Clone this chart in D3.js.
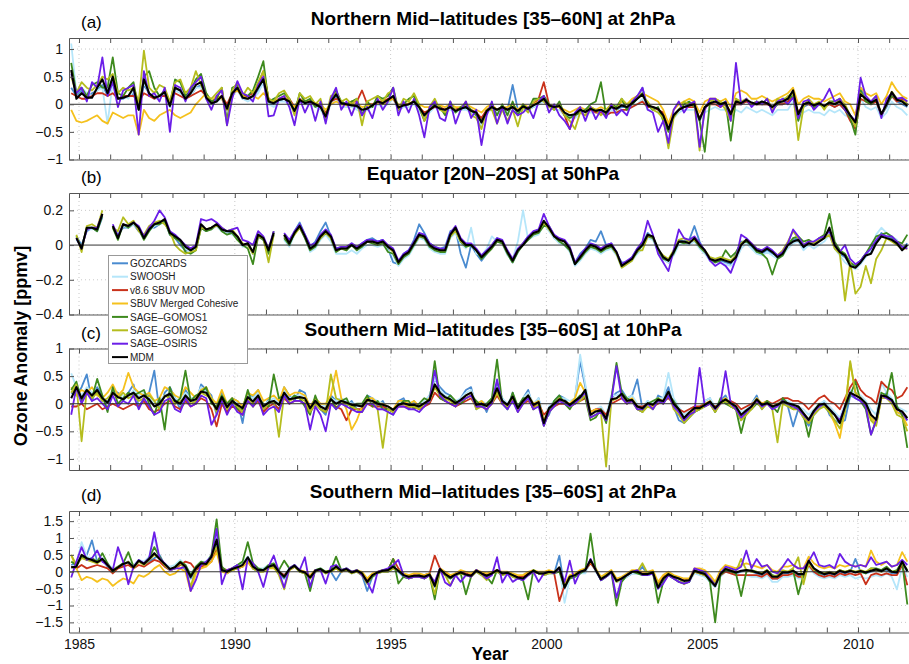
<!DOCTYPE html>
<html>
<head>
<meta charset="utf-8">
<script src="https://cdn.jsdelivr.net/npm/d3@7"></script>
<style>
  body { margin: 0; background: #fff; }
  text { font-family: "Liberation Sans", Arial, sans-serif; }
</style>
</head>
<body>
<script>
// ozone anomaly (ppmv), one value every 2 months starting Oct 1984
var T0 = 1984.75, STEP = 1 / 6;

var seriesNames = ["GOZCARDS", "SWOOSH", "v8.6 SBUV MOD", "SBUV Merged Cohesive",
  "SAGE\u2013GOMOS1", "SAGE\u2013GOMOS2", "SAGE\u2013OSIRIS", "MDM"];
var seriesColors = ["#4a8bd0", "#b5e6fa", "#c9321b", "#f5c11d", "#3e8a1e", "#b5bd1e", "#6b1ee8", "#000000"];

var titles = ["Northern Mid\u2013latitudes [35\u201360N] at 2hPa", "Equator [20N\u201320S] at 50hPa",
  "Southern Mid\u2013latitudes [35\u201360S] at 10hPa", "Southern Mid\u2013latitudes [35\u201360S] at 2hPa"];
var panelLabels = ["(a)", "(b)", "(c)", "(d)"];
var yTicksA = [-1, -0.5, 0, 0.5, 1];
var yTicksB = [-0.4, -0.2, 0, 0.2];
var yTicksC = [-1, -0.5, 0, 0.5, 1];
var yTicksD = [-1.5, -1, -0.5, 0, 0.5, 1, 1.5];
var xTickLabels = [1985, 1990, 1995, 2000, 2005, 2010];

// ---- panel (a) ----
var gozA = [.3,.15,.25,.1,.2,.25,.35,.15,.4,.1,.1,.15,
 .2,-.1,.35,.2,.1,.15,.2,-.05,.3,.25,.1,.15,
 .3,.35,.1,0,.05,.15,-.1,.15,.3,.1,.1,.15,
 .25,.4,0,0,.05,.1,.05,-.1,.05,0,.05,0,
 -.05,-.25,.05,.15,0,0,0,-.05,-.15,-.1,0,0,
 0,.05,.15,-.1,-.05,0,.05,-.1,-.25,-.1,-.05,-.1,
 -.1,-.05,-.1,-.1,-.05,-.15,-.2,-.4,-.1,-.05,-.1,-.05,
 -.1,.35,-.1,-.05,-.1,-.05,0,.15,-.05,-.05,-.05,-.2,
 -.2,-.2,-.1,-.15,-.1,-.1,-.1,-.15,-.05,-.1,-.05,-.05,
 0,.1,.3,-.05,-.05,-.1,-.2,-.45,-.2,-.1,-.05,0,
 0,-.3,-.05,0,.05,0,0,-.2,0,0,.05,0,
 0,0,0,-.05,0,0,.05,.2,-.2,-.05,0,-.05,
 0,-.05,0,-.05,0,-.1,-.2,-.35,.3,.1,0,.05,
 -.2,-.05,.15,.05,0,-.05];
var swoA = [1.1,.2,.3,.2,.15,.25,.3,-.35,.4,.1,.15,.1,
 .25,-.1,.4,.2,.1,.1,.2,-.05,.25,.2,.1,.15,
 .3,.3,.1,0,.05,.1,-.1,.15,.25,.1,.05,.1,
 .2,.4,0,-.05,.05,.05,0,-.15,.05,0,0,-.05,
 -.1,-.25,0,.1,-.05,-.05,-.05,-.1,-.15,-.1,-.05,0,
 -.05,0,.1,-.1,-.05,-.05,0,-.1,-.25,-.15,-.05,-.1,
 -.15,-.1,-.15,-.1,-.1,-.15,-.2,-.4,-.15,-.1,-.15,-.1,
 -.15,-.05,-.15,-.1,-.1,-.05,0,.05,-.05,-.1,-.1,-.2,
 -.25,-.25,-.15,-.2,-.15,-.15,-.15,-.2,-.1,-.15,-.1,-.1,
 -.05,0,.1,-.1,-.1,-.15,-.2,-.45,-.25,-.15,-.1,-.1,
 -.1,-.3,-.15,-.1,-.05,-.1,-.1,-.25,-.1,-.15,-.05,-.1,
 -.15,-.1,-.15,-.2,-.1,-.1,-.1,.05,-.3,-.15,-.1,-.15,
 -.15,-.2,-.1,-.15,-.1,-.2,-.25,-.4,.1,-.05,-.1,-.05,
 -.25,-.15,.05,-.05,-.1,-.2];
var sbmA = [.2,.15,.1,.1,.15,.2,.2,.15,.2,.1,.15,.15,
 .15,.05,.2,.15,.1,.15,.15,.05,.2,.15,.1,.15,
 .2,.25,.15,.05,.1,.15,0,.2,.25,.15,.15,.2,
 .35,.6,.1,.05,.1,.1,.1,-.05,.1,.05,.05,0,
 -.05,-.15,.05,.1,.05,0,.05,.05,.25,0,0,.05,
 .05,.1,.1,-.05,0,0,.05,-.05,-.15,-.1,-.05,-.05,
 -.1,-.05,-.1,-.05,-.05,-.1,-.15,-.25,-.1,-.05,-.1,-.05,
 -.1,-.05,-.1,-.05,-.05,0,.1,.4,0,-.05,-.05,-.2,
 -.45,-.2,-.15,-.2,-.1,-.15,-.15,-.2,-.15,-.15,-.1,-.1,
 -.05,0,.05,-.05,-.05,-.1,-.15,-.35,-.2,-.1,-.05,-.05,
 -.05,-.25,-.05,0,0,-.05,0,-.15,0,0,.05,0,
 0,0,0,-.05,0,0,.05,.15,-.15,0,0,-.05,
 0,-.05,0,-.05,0,-.1,-.3,-.45,.1,.05,0,.05,
 -.2,0,.15,.05,.1,0];
var sbcA = [-.1,-.3,-.33,-.3,-.25,-.2,-.3,-.35,-.15,-.2,-.25,-.2,
 -.2,-.55,-.1,-.25,-.3,-.2,-.15,-.1,-.2,-.25,-.2,-.15,
 0,.1,.2,.05,.15,.1,-.1,.2,.25,.15,.1,.15,
 .1,.2,.1,.05,.1,.15,.05,-.05,.1,.05,.08,.02,
 0,-.1,0,.05,0,-.02,0,0,-.05,-.03,0,.02,
 0,.05,.1,0,-.02,.02,.05,0,-.05,-.05,0,-.02,
 -.05,0,-.05,-.05,0,-.05,-.1,-.15,-.05,0,-.1,-.05,
 -.05,0,-.1,0,-.05,0,.05,.1,0,-.05,-.05,-.1,
 -.15,-.1,-.05,-.1,-.05,-.1,-.05,-.1,0,-.05,.05,0,
 .1,.15,.2,.15,.1,.05,-.1,-.35,-.1,0,.05,.1,
 .05,-.15,.05,.1,.1,.05,.1,-.05,.2,.25,.2,.1,
 .1,.15,.1,.05,.1,.15,.2,.3,0,.1,.15,.1,
 .1,.05,.1,.15,.2,.05,0,-.2,.3,.2,.15,.2,
 0,.15,.4,.25,.15,.1];
var sg1A = [.75,.2,.3,.15,.35,.4,.3,.3,.85,.2,.15,.3,
 .4,-.1,.5,.6,.3,.15,.25,0,.45,.4,.15,.25,
 .45,.55,.2,.05,.1,.3,-.3,.3,.35,.2,.15,.25,
 .5,.78,.05,.1,.15,.2,.1,-.15,.2,.05,.1,-.05,
 0,-.3,.1,.25,.05,0,.05,.1,-.2,.05,-.05,.15,
 .1,.15,.3,-.1,0,.1,.15,-.05,-.3,-.1,0,-.05,
 -.2,.05,-.15,-.05,0,-.1,-.2,-.3,-.15,0,-.2,0,
 -.2,.05,-.2,0,-.1,.1,.1,.15,0,-.1,.05,-.2,
 -.25,-.2,-.15,-.1,0,.05,.4,-.2,0,-.05,.1,-.1,
 0,.1,.2,0,-.1,-.05,-.3,-.5,-.2,-.1,0,.05,
 -.05,-.3,-.86,.05,.1,0,.05,-.66,.1,0,.1,0,
 .05,0,.1,-.1,0,.1,.1,.15,-.3,0,.05,-.05,
 0,-.05,.05,.05,.1,-.1,-.25,-.55,.25,.05,0,.1,
 -.2,0,.15,.1,.05,0];
var sg2A = [.5,.2,.4,.3,.25,.35,.5,.45,.55,.2,.3,.25,
 .3,.05,.97,.3,.2,.35,.3,.05,.4,.45,.2,.3,
 .6,.35,.15,.1,.2,.3,-.38,.25,.4,.15,.3,.2,
 .4,.6,.1,.05,.2,.25,.1,-.2,.2,.1,.15,0,
 .1,-.25,.15,.2,.05,.1,0,.1,-.38,.05,.1,.15,
 .05,.2,.25,-.1,.1,.05,.2,0,-.3,-.05,.1,-.1,
 -.15,0,-.1,-.1,.05,-.2,-.25,-.45,-.1,-.1,-.35,-.1,
 -.3,-.1,-.4,-.05,-.15,.05,.1,.05,-.05,-.1,0,-.2,
 -.3,-.45,-.15,-.2,-.05,-.1,-.2,-.1,0,-.1,.1,0,
 .05,.15,.15,.05,-.1,-.15,-.25,-.8,-.25,-.1,.05,0,
 0,-.84,-.05,.05,.1,.05,-.1,-.3,.1,.05,.1,0,
 .05,0,.1,-.1,.1,.05,.15,.2,-.65,-.05,.1,0,
 .05,-.1,.05,0,.1,0,-.2,-.4,.2,.1,.05,.15,
 -.2,0,.23,.1,.05,.05];
var osiA = [.55,.2,.3,.05,.4,.3,.85,.15,.4,-.05,.25,.3,
 .35,-.55,.6,.15,.2,.05,.3,-.5,.35,.3,.05,.3,
 .4,.5,.1,-.1,.15,.25,-.38,.1,.42,.2,.15,.05,
 .35,.5,-.22,-.2,.1,.15,-.05,-.38,.1,-.15,.05,-.3,
 .05,-.35,.1,.3,-.1,.05,-.2,.05,-.2,-.05,-.25,.1,
 -.1,.05,.3,-.2,.05,-.15,.1,-.2,-.6,-.05,.05,-.25,
 -.3,.05,-.35,-.1,.05,-.25,-.1,-.74,-.2,.05,-.35,-.05,
 -.35,-.1,-.2,-.15,-.05,-.25,.05,.15,-.15,0,-.2,-.3,
 -.45,-.15,-.05,-.3,-.05,-.27,-.1,-.25,0,-.2,-.1,-.2,
 .05,.15,.3,-.1,-.15,-.5,-.3,-.7,-.1,.05,-.15,0,
 .05,-.77,-.1,.1,.1,-.05,.05,-.3,.75,0,.1,-.05,
 .05,0,.1,-.15,.05,.1,0,.12,-.25,.05,.08,-.1,
 0,.1,.28,.05,.1,-.1,-.2,-.3,.48,.15,.05,.15,
 -.25,.1,.2,.1,.12,.05];
var mdmA = [.62,.1,.2,.12,.12,.3,.45,.2,.5,.1,.12,.15,
 .3,-.1,.45,.2,.12,.15,.22,-.03,.3,.25,.1,.2,
 .35,.4,.12,.02,.05,.15,-.08,.2,.3,.12,.1,.15,
 .3,.45,.05,.02,.08,.1,.05,-.12,.08,.02,.05,0,
 -.05,-.22,.05,.18,.02,0,-.02,-.03,-.1,-.08,-.02,.05,
 .02,.08,.15,-.06,-.02,0,.05,-.05,-.2,-.1,-.03,-.08,
 -.1,-.05,-.12,-.08,-.05,-.12,-.15,-.33,-.12,-.05,-.1,-.05,
 -.1,-.05,-.12,-.04,-.08,-.02,.03,.1,-.02,-.05,-.03,-.15,
 -.2,-.18,-.1,-.14,-.08,-.12,-.1,-.15,-.05,-.08,-.02,-.05,
 .02,.1,.18,-.02,-.05,-.08,-.2,-.45,-.2,-.1,-.05,-.02,
 0,-.28,-.05,.02,.05,0,.03,-.18,.05,.02,.08,.03,
 0,.05,.02,-.05,.03,.05,.1,.25,-.18,0,.03,-.02,
 .02,-.03,.03,0,.05,-.05,-.2,-.33,.18,.1,.03,.08,
 -.18,0,.22,.08,.05,-.03];

// ---- panel (b) ----  (no SBUV records at 50 hPa)
var gozB = [null,.05,0,.08,.1,.08,.16,null,.1,.06,.1,.1,
 .12,.08,.05,.1,.1,.12,.14,.06,.04,0,-.03,-.03,
 -.02,.1,.08,.1,.11,.08,.07,.07,.04,0,.01,-.05,
 .06,.03,-.04,.06,null,.05,0,.08,.13,.06,-.01,.02,
 .08,.13,.05,-.02,-.01,-.03,.01,-.03,.01,.03,.04,.02,
 .03,-.02,-.1,-.11,-.05,-.03,.03,.12,.07,.01,-.01,-.02,
 -.01,.08,.09,-.05,-.13,0,-.05,-.09,-.05,0,.04,.02,
 -.05,-.1,-.04,.01,.05,.07,.09,.13,.1,.04,.02,0,
 -.03,-.1,-.05,-.02,.03,.02,.08,0,.01,-.05,-.1,-.1,
 -.07,-.02,.01,.07,.04,-.03,-.08,-.1,-.05,.03,.02,.03,
 .11,.02,-.04,-.09,-.1,-.09,-.1,-.11,-.05,.02,.02,-.01,
 -.04,-.05,-.03,-.05,-.06,-.04,.01,.03,.04,-.02,.02,0,
 .03,.05,.08,-.01,-.05,-.07,-.11,-.12,-.09,-.05,-.04,.02,
 .07,.05,.04,.02,-.02,.01];
var swoB = [null,.03,-.01,.09,.09,.1,.17,null,.1,.05,.11,.1,
 .12,.09,.05,.08,.11,.12,.13,.07,.05,.02,-.02,-.04,
 -.02,.11,.09,.09,.11,.08,.07,.06,.04,-.01,0,-.04,
 .05,.03,-.04,.06,null,.03,-.01,.06,.11,.04,-.04,-.02,
 .03,.06,.02,-.05,-.05,-.05,-.03,-.05,-.02,0,0,-.01,
 0,-.03,-.06,-.12,-.08,-.06,-.01,.04,.03,-.02,-.04,-.05,
 -.05,.04,.07,.01,-.02,.1,-.05,-.06,-.02,.05,.02,.01,
 -.06,-.08,.02,.2,.03,.05,.06,.12,.08,.04,.01,0,
 -.04,-.12,-.09,-.05,-.02,-.03,-.05,-.03,-.02,-.06,-.13,-.11,
 -.09,-.05,-.02,.04,.03,-.04,-.08,-.1,-.06,0,.01,0,
 .02,-.02,-.05,-.09,-.1,-.1,-.11,-.12,-.09,-.02,.01,-.02,
 -.05,-.06,-.04,-.06,-.08,-.06,-.02,.01,.02,-.03,0,-.02,
 0,.02,.06,-.02,-.06,-.1,-.12,-.14,-.11,-.07,-.03,.06,
 .1,.07,.05,.03,-.02,-.01];
var sbmB = [];
var sbcB = [];
var sg1B = [null,.05,-.02,.1,.1,.08,.17,null,.1,.03,.12,.1,
 .13,.09,.03,.08,.12,.12,.14,.06,.04,.02,-.04,-.05,
 -.03,.1,.08,.09,.12,.08,.06,.07,.03,0,-.02,-.11,
 .05,.03,-.05,.08,null,.04,0,.07,.1,.04,-.03,-.01,
 .04,.07,.04,-.04,-.02,-.03,0,-.03,-.01,.02,.01,0,
 .01,-.04,-.05,-.11,-.07,-.05,0,.05,.04,-.01,-.03,-.04,
 -.04,.05,.09,.02,-.01,0,-.03,-.08,-.05,-.02,.02,.01,
 -.05,-.1,-.04,0,.03,.06,.07,.11,.11,.05,.02,0,
 -.03,-.11,-.08,-.04,-.01,-.02,-.04,-.02,-.01,-.05,-.11,-.1,
 -.08,-.04,0,.05,.04,-.03,-.08,-.09,-.05,.02,.01,.02,
 .03,-.01,-.04,-.08,-.1,-.09,-.03,-.07,-.04,.01,.02,0,
 -.04,-.05,-.08,-.17,-.08,-.06,0,.04,.05,.02,.03,.01,
 .04,.06,.18,.02,-.03,-.05,-.1,-.12,-.09,-.05,0,.05,
 .06,.07,.05,.02,.01,.06];
var sg2B = [null,.06,-.04,.11,.12,.1,.2,null,.1,.08,.16,.12,
 .14,.08,.06,.11,.13,.14,.12,.08,0,-.03,-.05,-.04,
 -.03,.1,.09,.1,.11,.1,.08,.09,.05,.01,0,-.05,
 .05,.04,-.1,.06,null,.05,.02,.06,.1,.05,-.02,0,
 .04,.07,.04,-.03,-.02,-.02,0,-.02,0,.02,.02,.01,
 .02,-.01,-.04,-.1,-.06,-.04,.01,.05,.05,0,-.02,-.03,
 -.03,.05,.08,.02,0,0,-.03,-.06,-.04,-.01,.03,.02,
 -.04,-.08,-.03,.01,.04,.07,.08,.13,.09,.05,.03,.02,
 -.02,-.1,-.07,-.03,0,-.01,-.03,-.01,0,-.05,-.13,-.11,
 -.09,-.03,-.03,.05,.05,-.03,-.06,-.08,-.03,.03,.04,.02,
 .03,0,-.03,-.07,-.08,-.07,-.08,-.09,-.06,.01,.03,.01,
 -.02,-.03,-.02,-.04,-.06,-.03,.02,.08,.04,0,.02,.01,
 .03,.04,.06,-.02,-.05,-.32,-.1,-.28,-.24,-.12,-.22,-.08,
 -.03,.04,.02,0,-.02,-.02];
var osiB = [null,.04,-.02,.09,.1,.1,.18,null,.12,.05,.12,.11,
 .13,.11,.05,.1,.14,.2,.16,.08,.06,.03,0,-.02,
 0,.15,.14,.15,.13,.1,.08,.09,.1,.03,.02,0,
 .08,.05,-.02,.08,null,.07,.03,.08,.12,.06,0,.01,
 .06,.09,.06,-.02,-.01,-.01,.01,-.01,.01,.03,.03,.02,
 .03,0,-.02,-.09,-.05,-.03,.02,.07,.06,.01,-.01,-.02,
 -.02,.07,.11,.04,.01,.01,-.02,-.06,-.03,0,.04,.03,
 -.03,-.08,-.02,.01,.05,.08,.09,.18,.11,.06,.04,.03,
 -.01,-.1,-.06,-.02,.01,0,-.02,0,.01,-.04,-.11,-.09,
 -.07,-.02,.02,.14,.06,-.05,-.1,-.15,-.03,.09,.04,.03,
 .05,.01,-.03,-.09,-.12,-.1,-.12,-.16,-.08,.06,.04,.01,
 -.02,-.03,-.01,-.03,-.06,-.04,.01,.09,.05,0,.02,.02,
 .04,.05,.08,0,-.04,0,-.08,-.11,-.09,-.05,-.02,.03,
 .06,.05,.05,.02,-.01,-.02];
var mdmB = [null,.04,-.02,.1,.1,.09,.18,null,.11,.04,.12,.11,
 .13,.1,.04,.09,.12,.13,.15,.07,.05,.03,-.01,-.03,
 -.01,.12,.09,.1,.12,.09,.08,.08,.05,0,.01,-.04,
 .06,.04,-.03,.07,null,.06,.01,.07,.11,.05,-.02,0,
 .05,.08,.05,-.03,-.02,-.02,0,-.02,0,.02,.02,.01,
 .02,-.01,-.03,-.1,-.06,-.04,.01,.06,.05,0,-.02,-.03,
 -.03,.06,.1,.03,0,0,-.03,-.07,-.04,-.01,.03,.02,
 -.04,-.09,-.03,0,.04,.07,.08,.14,.1,.05,.03,.02,
 -.02,-.11,-.07,-.03,0,-.01,-.03,-.01,0,-.04,-.12,-.1,
 -.08,-.03,0,.06,.05,-.02,-.07,-.09,-.04,.02,.02,.01,
 .04,0,-.03,-.08,-.09,-.08,-.09,-.1,-.07,0,.03,0,
 -.03,-.04,-.02,-.04,-.07,-.05,0,.02,.03,-.01,.01,0,
 .02,.04,.1,0,-.04,-.06,-.12,-.13,-.1,-.06,-.05,.01,
 .05,.04,.03,.01,-.03,0];

// ---- panel (c) ----
var gozC = [.2,.15,.3,.53,.05,.3,.15,-.1,.25,.2,.05,.2,
 .35,-.05,.1,.2,.6,-.15,.2,.3,.1,-.1,.25,.1,
 0,.35,.25,.15,-.2,.2,-.15,.1,.05,-.35,.2,.1,
 .25,-.15,.1,0,-.1,.3,.15,.05,.25,.2,-.15,0,
 -.1,-.2,.15,.05,.1,-.05,.05,-.1,-.15,.15,.1,-.05,
 .05,-.15,-.2,.05,.1,-.1,.05,-.1,-.05,.15,.45,.3,
 .2,.15,-.05,.1,.25,.3,-.1,.05,-.15,.1,.35,.1,
 -.1,.2,-.15,.1,.25,-.1,.1,-.3,-.2,.05,.15,.1,
 -.05,.1,.77,.3,-.25,-.2,-.1,-.3,.1,.2,.25,.1,
 .15,.44,-.1,.05,-.1,.15,.1,.3,-.05,-.3,-.35,-.25,
 -.15,-.1,.05,.1,-.15,.05,.15,-.05,-.1,-.3,-.15,0,
 .15,-.1,.05,-.1,0,.1,-.05,-.41,-.1,-.25,-.4,-.2,
 -.1,.05,-.2,-.3,-.35,-.3,.15,.1,.05,-.05,-.25,-.35,
 .1,.2,.05,-.15,-.2,-.3];
var swoC = [.55,.3,.15,.3,.2,.2,.05,.05,.25,.15,.15,.1,
 .25,.15,.2,.1,0,.05,.15,.2,.1,.05,.2,.1,
 .1,.3,.2,.1,-.05,.15,-.1,.1,0,-.15,.15,.1,
 .2,-.05,.05,.1,0,.25,.1,.15,.15,.15,-.05,.1,
 0,-.05,.1,.05,.1,.05,0,0,-.05,.1,.1,.05,
 0,-.05,-.1,0,.05,0,0,-.05,.05,.15,.47,.25,
 .15,.1,.05,.1,.2,.25,0,.05,0,.1,.3,.1,
 0,.15,-.05,.1,.2,0,.1,-.3,-.05,.05,.1,.1,
 .05,.1,.89,.35,-.15,-.1,-.05,-.2,.15,.15,.2,.1,
 .15,0,-.05,.05,0,.1,.1,.56,.1,-.05,-.2,-.1,
 -.05,-.05,.05,.1,-.05,.05,.1,.05,0,-.15,-.1,0,
 .1,0,.05,-.05,0,.1,.05,0,-.05,-.1,-.2,-.1,
 0,.05,-.05,-.15,-.25,0,.25,.2,.15,.05,-.1,-.2,
 .38,.2,.1,-.05,-.1,-.15];
var sbmC = [-.05,-.05,0,-.1,-.05,0,-.1,-.05,0,-.05,-.1,-.05,
 0,-.05,.05,-.1,-.15,-.1,0,.05,-.05,-.1,.05,-.05,
 0,.1,.05,-.1,-.41,0,-.15,-.05,-.1,-.2,.05,-.05,
 .05,-.15,-.05,0,-.1,.1,0,.05,.05,0,-.15,0,
 -.1,-.15,0,-.05,-.1,-.3,-.1,-.1,-.1,0,-.05,-.05,
 -.05,-.1,-.15,-.05,-.05,-.05,-.05,-.1,-.05,0,.2,.1,
 .05,0,-.05,0,.05,.1,-.05,-.05,-.1,0,.15,0,
 -.05,.05,-.1,0,.05,-.05,0,-.2,-.1,-.05,0,0,
 -.05,0,.05,.1,-.15,-.1,-.1,-.2,0,.05,.1,0,
 .05,-.05,-.05,0,-.05,0,.05,.1,0,-.1,-.15,-.1,
 -.05,-.05,0,0,-.05,0,.05,.05,0,-.1,-.05,0,
 .05,0,.05,0,.05,.1,.1,.05,.05,0,-.1,0,
 .1,.15,.05,0,-.1,.1,.3,.44,.25,.15,.1,0,
 .4,.3,.25,.1,.15,.3];
var sbcC = [.3,.15,.25,.2,.3,.15,.1,.2,.35,.15,.25,.56,
 .3,.2,.15,.2,.05,.1,.3,.25,.15,.1,.3,.2,
 .1,.25,.3,.1,0,.25,0,.1,.05,-.05,.2,.15,
 .25,.05,.1,.15,.05,.3,.15,.2,.2,.15,-.05,.1,
 0,0,.15,.6,.1,-.1,-.47,-.3,-.05,.1,.1,0,
 0,-.05,-.1,.05,.05,0,.05,-.05,0,.1,.3,.2,
 .1,.05,0,.05,.15,.2,0,.05,-.05,.05,.2,.05,
 -.05,.1,-.1,.05,.15,0,.05,-.3,-.1,0,.1,.05,
 0,.1,.38,.2,-.15,-.1,-.15,-.3,.05,.1,.15,.05,
 .1,-.05,-.1,0,-.05,.1,.05,.2,0,-.15,-.3,-.2,
 -.1,-.1,0,.05,-.1,.05,.1,0,-.05,-.25,-.15,-.05,
 .1,0,.05,-.05,0,.05,0,-.05,-.1,-.2,-.35,-.15,
 -.05,0,-.15,-.35,-.62,-.1,.74,.2,.1,0,-.25,-.35,
 .1,.1,.05,-.15,-.2,-.4];
var sg1C = [.25,.4,.05,.2,.1,.45,.15,-.15,.3,0,.1,.2,
 .15,.2,.25,0,-.2,.1,-.47,.3,0,.1,.6,.05,
 .15,.2,.3,0,-.05,.15,0,.1,-.1,-.1,.25,-.05,
 .1,0,-.05,.53,.1,.15,.05,.15,.1,-.05,-.2,.15,
 -.1,-.15,.1,-.1,.05,.1,-.1,0,0,.15,-.05,.05,
 -.1,-.1,-.15,-.05,.05,.05,-.1,0,.1,.05,.77,.1,
 .05,.15,.05,0,.1,.15,.05,-.05,0,.1,.8,0,
 -.1,.2,-.05,.1,.1,-.1,0,-.4,-.15,.05,.15,0,
 -.1,.05,.15,.1,-.3,-.25,-.1,-.35,.1,.74,.2,.1,
 .05,-.1,-.15,0,.05,.1,0,.15,.05,-.1,-.3,-.2,
 -.15,-.1,-.05,0,-.15,.1,0,-.05,-.1,-.53,-.15,-.1,
 0,-.05,.05,-.05,-.15,.1,0,-.1,-.05,-.2,-.6,-.15,
 0,-.05,-.15,-.2,-.3,-.1,.15,.4,.05,-.1,-.56,-.3,
 .2,.15,.56,-.05,-.2,-.8];
var sg2C = [.2,.35,-.68,.25,.1,.2,.05,.1,.2,.1,.2,.1,
 .15,.05,.1,.15,.05,-.1,.15,.1,0,.05,.1,0,
 .05,.2,.15,.1,-.15,.1,-.1,.05,-.05,-.15,.1,0,
 .1,-.1,0,.05,-.6,.15,.05,.1,.1,.05,-.15,0,
 -.1,-.15,.53,.1,.05,0,-.05,-.1,-.15,.05,.05,-.1,
 -.8,-.1,-.15,-.05,0,-.05,-.05,-.1,0,.05,.3,.15,
 .1,.05,-.05,.05,.1,.15,-.1,-.05,-.1,0,.2,0,
 -.05,.1,-.15,0,.1,-.1,0,-.35,-.15,-.05,.05,.05,
 -.05,0,.05,.15,-.25,-.2,-.15,-1.14,.05,.1,.15,0,
 .05,-.1,-.15,-.05,-.1,.05,0,.2,-.1,-.2,-.35,-.25,
 -.15,-.1,-.05,0,-.15,0,.05,-.05,-.1,-.3,-.2,-.1,
 .05,-.1,0,-.1,-.7,0,-.05,-.1,-.1,-.25,-.35,-.2,
 -.1,-.05,-.15,-.3,-.45,-.15,.77,.2,.1,-.05,-.3,-.4,
 .1,.1,0,-.2,-.25,-.5];
var osiC = [-.2,.3,0,.2,.05,.1,0,-.1,.15,-.05,.05,0,
 .15,-.1,.1,-.05,-.2,-.15,.05,.1,-.1,-.15,.1,-.05,
 0,.15,.1,-.38,-.2,.05,-.2,0,-.15,-.2,.05,-.05,
 .1,-.2,-.1,-.05,-.15,.15,0,.05,.05,0,-.47,-.05,
 -.2,-.5,0,-.1,0,-.05,-.1,-.15,-.15,0,0,-.1,
 -.1,-.15,-.2,-.05,-.05,-.1,-.1,-.15,-.05,.05,.6,.15,
 .05,0,-.05,.05,.1,.15,-.05,-.05,-.1,0,.44,0,
 -.1,.05,-.15,0,.1,-.1,-.05,-.4,-.15,-.05,.05,0,
 -.05,0,.1,.2,-.25,-.2,-.15,-.3,.05,.68,.1,0,
 .05,-.1,-.1,0,-.1,.05,0,.15,-.05,-.15,-.3,-.2,
 -.15,.65,-.05,0,-.1,0,.59,0,-.1,-.25,-.15,-.05,
 .05,-.05,0,-.1,-.05,.05,0,-.05,-.1,-.2,-.3,-.15,
 -.05,0,-.1,-.2,-.3,-.05,.2,.1,.05,-.05,-.56,-.3,
 .15,.1,.05,-.1,-.15,-.3];
var mdmC = [.1,.3,.1,.25,.15,.25,.1,.02,.2,.12,.08,.15,
 .2,.1,.15,.08,-.05,0,.13,.18,.05,0,.15,.05,
 .08,.22,.2,.05,-.1,.12,-.06,.05,-.02,-.08,.12,.04,
 .15,-.05,.02,.05,-.02,.2,.08,.1,.12,.1,-.08,.05,
 -.05,-.1,.08,0,.05,.02,-.02,-.03,-.05,.07,.05,0,
 -.02,-.05,-.11,-.02,.01,-.02,-.02,-.05,.01,.07,.35,.2,
 .12,.08,.01,.07,.15,.2,-.02,0,-.04,.05,.28,.05,
 -.02,.13,-.08,.05,.15,-.02,.03,-.35,-.08,0,.08,.05,
 -.02,.05,.12,.25,-.2,-.14,-.12,-.27,.08,.1,.18,.05,
 .07,-.05,-.08,.01,-.02,.07,.05,.22,0,-.1,-.26,-.16,
 -.08,-.08,-.02,.04,-.08,.02,.08,.01,-.05,-.2,-.12,-.05,
 .08,-.02,.01,-.05,-.02,.04,.01,-.02,-.05,-.17,-.29,-.13,
 -.02,0,-.1,-.2,-.35,-.05,.2,.15,.1,.01,-.2,-.29,
 .15,.13,.07,-.1,-.14,-.26];

// ---- panel (d) ----
var gozD = [.2,.25,.45,.5,.93,.3,.35,.15,.05,.1,.2,.3,
 .1,.35,.2,.3,.4,.5,.2,.05,.1,.25,.05,-.2,
 .05,.2,.25,.4,.85,.05,-.05,.05,.1,.15,.35,.1,
 0,.05,.1,.15,-.05,-.2,.05,.15,0,-.05,-.2,0,
 .05,-.05,0,-.25,0,.05,-.05,0,-.1,-.57,-.15,-.05,
 0,0,.1,0,-.15,-.2,-.15,-.15,-.2,-.1,-.45,.05,
 -.1,-.2,-.1,-.05,-.1,-.15,0,-.1,-.15,-.05,0,-.1,
 -.05,-.15,-.2,-.25,-.1,0,-.05,-.1,-.05,-.05,.48,-.5,
 -.2,-.15,-.05,0,.3,.05,-.25,-.15,-.05,-.3,-.25,-.15,
 -.05,-.05,.15,-.1,-.05,-.5,-.2,-.1,-.2,-.25,-.3,-.3,
 0,-.05,-.1,-.3,-.45,-.1,.05,0,-.05,0,.05,0,
 -.05,-.1,0,-.2,-.2,-.05,-.05,0,-.1,-.1,.3,.05,
 -.05,-.1,-.05,-.1,0,-.05,0,.38,0,-.05,0,.05,
 0,.05,-.05,-.05,.25,0];
var swoD = [.15,.2,.88,.45,.4,.3,.4,.25,.1,.15,.25,.3,
 .2,.35,.3,.45,1.02,.4,.25,.15,.2,.35,.2,-.05,
 .15,.3,.3,.5,1.13,.1,.05,.1,.2,.25,.45,.2,
 .1,.1,.2,.25,.05,-.1,.1,.2,.05,0,-.15,.05,
 .1,0,.05,.15,.05,.1,0,.05,-.05,-.25,-.1,0,
 .05,.05,.1,.05,-.05,-.1,-.1,-.1,-.1,-.05,-.35,.1,
 -.05,-.15,-.05,0,-.05,-.1,.05,-.05,-.1,-.05,.05,-.05,
 -.05,-.1,-.15,-.2,-.1,0,-.05,-.05,-.05,-.05,.1,-.92,
 -.2,-.15,-.05,-.05,.3,0,-.25,-.15,-.05,-.3,-.25,-.15,
 -.05,-.05,-.1,-.1,-.05,-.45,-.25,-.1,-.2,-.25,-.3,-.3,
 -.05,-.1,-.15,-.3,-.45,-.15,0,-.05,-.1,-.1,-.1,-.15,
 -.15,-.2,-.1,-.3,-.3,-.15,-.15,-.1,-.2,-.2,.15,-.05,
 -.15,-.2,-.15,-.2,-.1,-.15,-.1,-.2,-.15,-.2,-.15,-.1,
 -.15,-.05,-.15,-.52,.15,-.15];
var sbmD = [.15,.1,.2,.1,.15,.2,.15,.1,-.05,.1,.15,.2,
 .1,.2,.15,.25,.35,.3,.15,.05,.1,.2,.3,.25,
 .05,.15,.2,.3,.7,.1,.05,.1,.1,.15,.3,.1,
 .05,.05,.1,.15,0,-.1,.05,.15,.05,0,-.15,.05,
 .05,0,.05,.1,0,.05,0,0,-.05,-.25,-.1,0,
 .05,.05,.38,.1,-.1,-.15,-.1,-.1,-.1,-.05,.48,.1,
 -.05,-.15,-.05,0,-.05,-.1,.05,-.05,-.1,-.05,.05,-.05,
 -.05,-.1,-.15,-.15,-.05,0,-.05,-.05,0,-.05,-.87,-.4,
 -.15,-.1,0,.05,.25,.05,-.2,-.1,0,-.25,-.2,-.1,
 0,0,-.05,-.05,0,-.35,-.15,-.05,-.15,-.2,-.25,-.25,
 0,-.05,-.1,-.2,-.35,-.1,0,-.05,-.1,-.1,-.1,-.1,
 -.1,-.15,-.05,-.2,-.2,-.1,-.1,-.05,-.15,-.15,.2,0,
 -.1,-.15,-.1,-.15,-.05,-.1,-.05,-.1,-.05,-.37,-.1,-.05,
 -.1,-.05,-.1,-.1,.2,-.4];
var sbcD = [.5,.1,-.25,-.15,-.2,-.3,-.2,-.25,-.42,-.3,-.2,-.25,
 -.35,-.1,-.15,-.05,.1,.2,0,-.1,-.05,.1,0,-.57,
 -.05,.1,.15,.3,.58,0,-.05,.05,.1,.15,.3,.1,
 .05,.05,.1,.1,0,-.15,.05,.15,.05,0,-.1,.05,
 .05,0,.05,.1,.05,.05,0,.05,0,-.2,-.05,0,
 .05,.05,.1,.05,-.05,-.1,-.05,-.05,-.1,-.05,-.35,.1,
 0,-.1,-.05,.05,0,-.05,.05,0,-.05,0,.05,0,
 0,-.05,-.1,-.1,0,.05,0,0,.05,0,.1,-.35,
 -.1,-.05,.05,.1,.3,.1,-.15,-.05,.05,-.2,-.15,-.05,
 .05,.05,0,0,.05,-.3,-.1,0,-.1,-.15,-.2,-.2,
 .1,.1,.05,-.1,-.3,.05,.2,.15,.1,.2,.25,.2,
 .15,.1,.2,.05,0,.15,.15,.2,.1,.1,.45,.25,
 .15,.1,.15,.1,.2,.15,.2,.15,.2,.15,.63,.3,
 .2,.3,.15,.2,.58,.3];
var sg1D = [.3,.2,.45,.35,.4,.3,.55,.25,0,.15,.25,.58,
 .15,.3,.25,.4,.73,.45,.2,.05,.15,.3,.2,-.1,
 .15,.3,.25,.5,1.55,.15,0,.1,.2,.3,.88,.25,
 .1,.05,.2,.25,.05,.33,.1,.2,0,-.05,-.57,.05,
 .1,0,.05,.45,.05,.1,0,.05,-.05,-.35,-.15,0,
 .05,.05,.38,-.35,-.15,-.2,-.15,-.1,-.2,-.1,-.82,.05,
 -.1,-.2,-.1,-.05,-.67,-.15,.05,-.05,-.15,-.35,.05,-.05,
 -.05,-.1,-.2,-.25,-.82,.05,-.05,-.05,0,-.05,0,-.45,
 -.2,-.15,-.05,.05,1.13,.05,-.25,-.15,0,-1,-.3,-.1,
 0,-.05,-.1,-.05,0,-.92,-.3,-.1,-.2,-.3,-.35,-.3,
 .05,0,-.05,-.3,-1.5,-.1,.05,0,-.05,-.72,0,.05,
 0,-.05,.05,-.1,-.15,0,0,.05,-.67,-.1,.3,.1,
 -.05,-.05,0,-.05,.05,0,.05,0,0,-.05,.1,.1,
 .05,.15,0,.05,.3,-.97];
var sg2D = [.5,.2,.4,.35,.3,.25,.35,.2,.05,.15,.2,.3,
 .1,.3,.2,.35,.5,.4,.2,.05,.1,.25,.1,-.45,
 .1,.25,.2,.45,.73,.05,0,.05,.1,.2,.4,.1,
 0,0,.1,.15,-.1,-.52,.05,.15,0,-.05,-.2,0,
 .05,-.05,0,.1,0,.05,-.05,0,-.1,-.35,-.1,-.05,
 0,0,.1,.05,-.1,-.2,-.15,-.15,-.2,-.1,-.67,.05,
 -.1,-.4,-.1,-.05,-.1,-.15,0,-.1,-.25,-.05,0,-.1,
 -.05,-.15,-.2,-.2,-.1,0,-.05,-.1,-.05,-.05,.1,-.45,
 -.15,-.1,0,.05,.35,.05,-.2,-.1,0,-.3,-.2,-.1,
 0,0,.25,-.05,0,-.4,-.2,-.05,-.15,-.2,-.37,-.25,
 0,-.05,-.1,-.2,-.35,-.05,.1,.05,0,.38,.05,0,
 0,-.05,.05,-.15,-.1,.05,0,.1,.43,-.37,.25,.05,
 0,-.05,0,-.05,.05,0,.05,0,.05,0,.1,.05,
 0,.1,0,0,.25,.05];
var osiD = [-.17,.3,.73,.35,.4,.63,.3,.2,.05,.73,.3,-.37,
 .15,.35,.25,.4,1.17,.4,.25,.05,.1,.1,.15,-.57,
 -.25,.2,.3,.45,1.27,-.37,.05,.1,.2,-.52,.4,.25,
 0,-.45,.15,.48,0,-.47,.1,.2,.05,.43,-.45,.05,
 .05,-.35,.15,.2,.05,.1,0,.05,-.1,-.3,-.62,0,
 .05,.1,.2,.35,-.1,-.2,-.15,-.15,-.2,-.1,-.3,.1,
 -.32,-.42,-.1,-.3,-.1,-.15,.05,-.05,-.2,-.1,.43,-.32,
 -.05,-.3,-.2,-.25,-.1,0,-.3,-.05,0,-.05,.1,-.3,
 .33,-.35,0,.05,.38,.05,-.25,-.15,0,-.77,-.2,-.1,
 0,.05,-.1,-.1,-.05,-.5,-.35,-.1,-.2,-.3,-.35,-.3,
 .1,.05,0,-.2,-.4,-.05,.15,.1,.05,.15,.63,.1,
 .38,.15,.2,0,-.05,.15,.38,.2,.1,.1,.3,.58,
 .2,.15,.2,.1,.53,.3,.2,.15,.2,.15,.43,.2,
 .25,.3,.15,.2,.35,.2];
var mdmD = [.13,.15,.5,.4,.35,.28,.38,.2,.03,.13,.23,.28,
 .13,.33,.23,.38,.55,.38,.23,.08,.13,.28,.15,-.15,
 .1,.25,.23,.45,.95,.05,0,.08,.13,.2,.43,.15,
 .05,.05,.15,.2,0,-.15,.08,.18,.03,-.02,-.17,.03,
 .08,-.02,.03,.15,.03,.08,-.02,.03,-.05,-.3,-.1,-.02,
 .03,.05,.15,.03,-.1,-.15,-.12,-.12,-.15,-.08,-.42,.08,
 -.07,-.17,-.08,-.02,-.08,-.12,.03,-.05,-.12,-.05,.05,-.05,
 -.03,-.1,-.17,-.2,-.07,.03,-.05,-.05,0,-.02,.13,-.47,
 -.15,-.1,0,.05,.35,.05,-.22,-.12,0,-.27,-.2,-.1,
 0,0,-.07,-.07,-.02,-.47,-.2,-.07,-.15,-.2,-.27,-.25,
 .03,-.02,-.07,-.25,-.42,-.07,.08,.03,-.02,.03,.05,.03,
 -.02,-.07,.03,-.15,-.15,-.02,-.02,.03,-.07,-.07,.33,.1,
 0,-.07,-.03,-.07,.03,-.02,.03,-.02,.02,-.02,.03,.07,
 .02,.1,0,-.02,.3,.02];

var panels = [
  { title: titles[0], label: panelLabels[0], dom: [-1, 1.2], top: 38, bottom: 159.5, ticks: yTicksA,
    data: [gozA, swoA, sbmA, sbcA, sg1A, sg2A, osiA, mdmA] },
  { title: titles[1], label: panelLabels[1], dom: [-0.4, 0.3], top: 193, bottom: 314.5, ticks: yTicksB,
    data: [gozB, swoB, sbmB, sbcB, sg1B, sg2B, osiB, mdmB] },
  { title: titles[2], label: panelLabels[2], dom: [-1.2, 1.0], top: 348.5, bottom: 470, ticks: yTicksC,
    data: [gozC, swoC, sbmC, sbcC, sg1C, sg2C, osiC, mdmC] },
  { title: titles[3], label: panelLabels[3], dom: [-1.8, 1.8], top: 511, bottom: 632.5, ticks: yTicksD,
    data: [gozD, swoD, sbmD, sbcD, sg1D, sg2D, osiD, mdmD] }
];

var W = 909, H = 664;
var L = 69, R = 912;
var svg = d3.select("body").append("svg").attr("width", W).attr("height", H);

// 1985 sits at x=79, 31.16 px per year
var x = d3.scaleLinear().domain([1985 - 10 / 31.16, 1985 + (R - 79) / 31.16]).range([L, R]);
var yearTicks = d3.range(1985, 2012);
var fmt = function(d) { return (d < 0 ? "\u2212" : "") + Math.abs(d); };

panels.forEach(function(p, pi) {
  var y = d3.scaleLinear().domain(p.dom).range([p.bottom, p.top]);
  var g = svg.append("g");

  g.append("clipPath").attr("id", "clip" + pi)
    .append("rect").attr("x", L).attr("y", p.top).attr("width", R - L).attr("height", p.bottom - p.top);

  // dotted grid
  g.selectAll(".vg").data(xTickLabels).enter().append("line")
    .attr("x1", function(d) { return x(d); }).attr("x2", function(d) { return x(d); })
    .attr("y1", p.top).attr("y2", p.bottom)
    .attr("stroke", "#bbb").attr("stroke-width", 0.8).attr("stroke-dasharray", "1,3");
  g.selectAll(".hg").data(p.ticks.filter(function(d) { return d !== 0; })).enter().append("line")
    .attr("x1", L).attr("x2", R)
    .attr("y1", function(d) { return y(d); }).attr("y2", function(d) { return y(d); })
    .attr("stroke", "#bbb").attr("stroke-width", 0.8).attr("stroke-dasharray", "1,3");

  // series
  var lines = g.append("g").attr("clip-path", "url(#clip" + pi + ")");
  p.data.forEach(function(arr, si) {
    if (!arr.length) return;
    var line = d3.line()
      .defined(function(d) { return d != null; })
      .x(function(d, i) { return x(T0 + i * STEP); })
      .y(function(d) { return y(d); });
    if (si == 7) {
      lines.append("line").attr("x1", L).attr("x2", R).attr("y1", y(0)).attr("y2", y(0))
        .attr("stroke", "#333").attr("stroke-width", 1);
    }
    lines.append("path").datum(arr)
      .attr("fill", "none")
      .attr("stroke", seriesColors[si])
      .attr("stroke-width", si == 7 ? 2.1 : 1.8)
      .attr("stroke-linejoin", "round")
      .attr("d", line);
  });

  // axes
  var isLast = pi == panels.length - 1;
  var ax = g.append("g").attr("transform", "translate(0," + p.bottom + ")")
    .call(d3.axisBottom(x).tickValues(yearTicks).tickSize(-5).tickSizeOuter(0).tickPadding(7)
      .tickFormat(function(d) { return isLast && d % 5 == 0 ? d : ""; }));
  var axT = g.append("g").attr("transform", "translate(0," + p.top + ")")
    .call(d3.axisTop(x).tickValues(yearTicks).tickSize(-5).tickSizeOuter(0).tickFormat(""));
  var ay = g.append("g").attr("transform", "translate(" + L + ",0)")
    .call(d3.axisLeft(y).tickValues(p.ticks).tickSize(-5).tickSizeOuter(0).tickPadding(6).tickFormat(fmt));
  [ax, axT, ay].forEach(function(a) {
    a.selectAll("path, line").attr("stroke", "#555");
    a.selectAll("text").attr("font-size", 14).attr("fill", "#111")
      .attr("font-family", "'Liberation Sans', Arial, sans-serif");
  });

  g.append("text").attr("x", 493).attr("y", p.top - 13)
    .attr("text-anchor", "middle").attr("font-size", 19).attr("font-weight", "bold")
    .text(p.title);
  g.append("text").attr("x", 81).attr("y", p.top - 10)
    .attr("font-size", 17).attr("font-family", "'Open Sans', sans-serif")
    .text(p.label);
});

// axis titles
svg.append("text").attr("transform", "translate(27,346) rotate(-90)")
  .attr("text-anchor", "middle").attr("font-size", 18).attr("font-weight", "bold")
  .text("Ozone Anomaly [ppmv]");
svg.append("text").attr("x", 490).attr("y", 660)
  .attr("text-anchor", "middle").attr("font-size", 17.5).attr("font-weight", "bold")
  .text("Year");

// legend
var lg = svg.append("g");
lg.append("rect").attr("x", 108.5).attr("y", 255.5).attr("width", 139).attr("height", 108)
  .attr("fill", "#fff").attr("stroke", "#999").attr("stroke-width", 1);
var items = lg.selectAll(".it").data(seriesNames).enter().append("g")
  .attr("transform", function(d, i) { return "translate(0," + (263.3 + i * 13.4) + ")"; });
items.append("line").attr("x1", 112).attr("x2", 128).attr("y1", 0).attr("y2", 0)
  .attr("stroke", function(d, i) { return seriesColors[i]; }).attr("stroke-width", 2);
items.append("text").attr("x", 130).attr("y", 3.6).attr("font-size", 10).attr("fill", "#222")
  .text(function(d) { return d; });
</script>
</body>
</html>
